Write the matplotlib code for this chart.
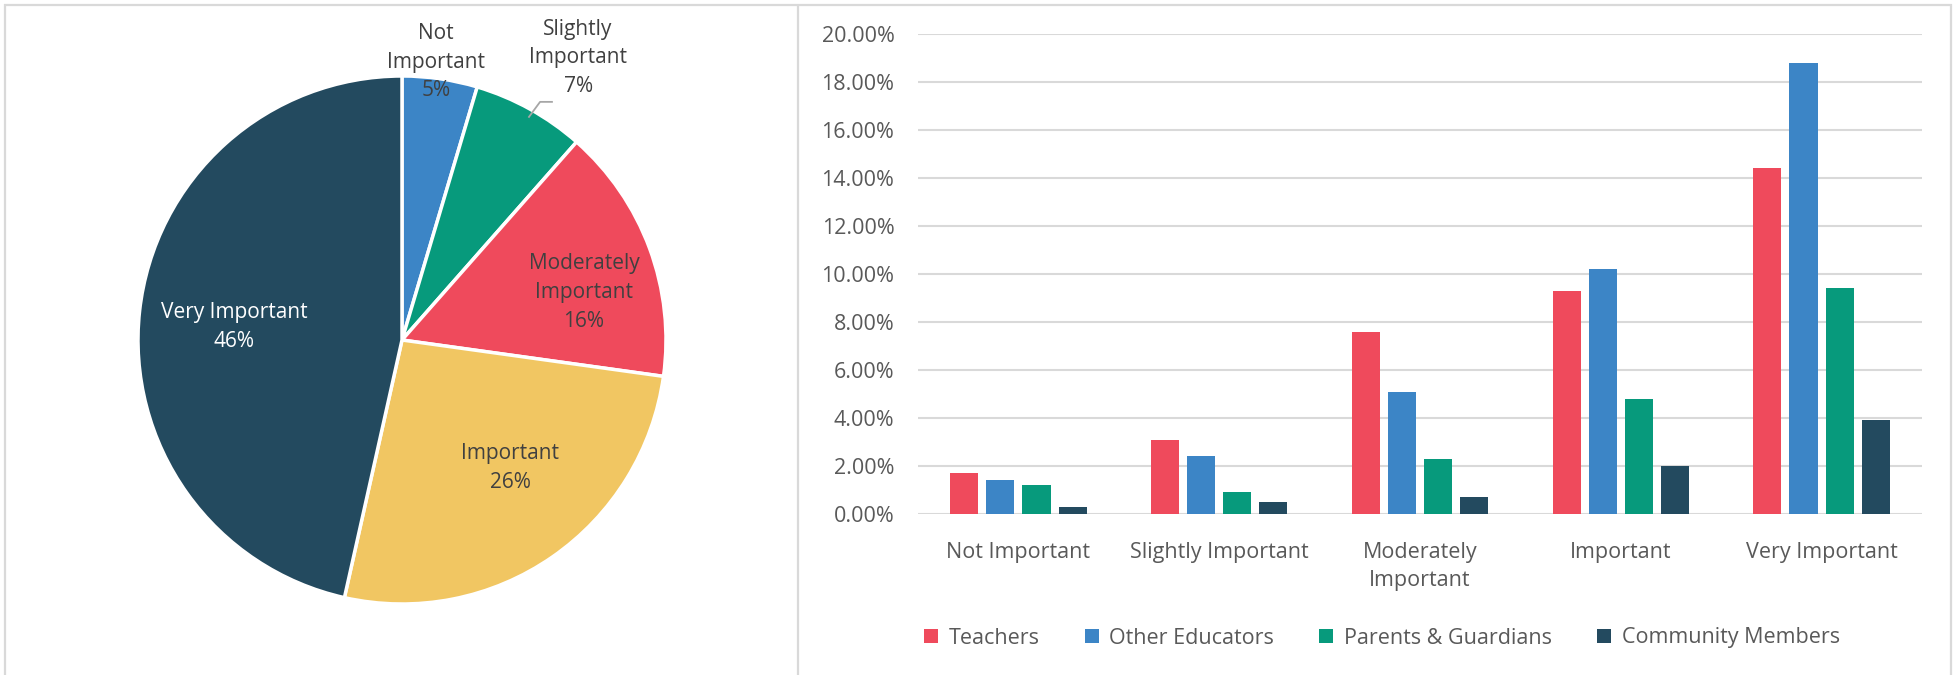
import matplotlib
matplotlib.use("Agg")
import matplotlib.pyplot as plt
import numpy as np
from matplotlib.lines import Line2D
from matplotlib.ticker import FuncFormatter

plt.rcParams['font.family'] = ['Open Sans', 'DejaVu Sans']

# ---------------- data ----------------
categories = ["Not Important", "Slightly Important", "Moderately\nImportant", "Important", "Very Important"]
pie_labels = ["Not\nImportant\n5%", "Slightly\nImportant\n7%", "Moderately\nImportant\n16%", "Important\n26%", "Very Important\n46%"]
pie_values = [4.6, 6.9, 15.7, 26.3, 46.5]

series_names = ["Teachers", "Other Educators", "Parents & Guardians", "Community Members"]
teachers = [1.7, 3.1, 7.6, 9.3, 14.4]
other_educators = [1.4, 2.4, 5.1, 10.2, 18.8]
parents_guardians = [1.2, 0.9, 2.3, 4.8, 9.4]
community_members = [0.3, 0.5, 0.7, 2.0, 3.9]

y_ticks = [0, 2, 4, 6, 8, 10, 12, 14, 16, 18, 20]

# ---------------- style ----------------
RED = "#EF4A5C"
BLUE = "#3C85C6"
GREEN = "#079A7C"
NAVY = "#234A5F"
YELLOW = "#F1C662"
GRID = "#D9D9D9"
TXT = "#595959"
DARK = "#404040"
FS = 15.5

W, H = 1959, 675
fig = plt.figure(figsize=(W / 100, H / 100), dpi=100)
fig.patch.set_facecolor("white")

def fx(px):
    return px / W

def fy(py):
    return 1 - py / H

# ---------------- borders ----------------
for (x0, y0, x1, y1) in [(4, 4.5, 1952, 4.5), (4.5, 4, 4.5, 675), (1951, 4, 1951, 675), (798, 4, 798, 675)]:
    fig.add_artist(Line2D([fx(x0), fx(x1)], [fy(y0), fy(y1)], transform=fig.transFigure,
                          color=GRID, lw=1.6, solid_capstyle="butt"))

# ---------------- pie ----------------
cx, cy, r = 402, 340, 264
axp = fig.add_axes([fx(cx - r), fy(cy + r), 2 * r / W, 2 * r / H])
axp.pie(pie_values, colors=[BLUE, GREEN, RED, YELLOW, NAVY], startangle=90, counterclock=False,
        radius=1, wedgeprops=dict(edgecolor="white", linewidth=2.5))
axp.set_xlim(-1, 1)
axp.set_ylim(-1, 1)
axp.set_aspect("auto")
axp.axis("off")

label_pos = [(0.129, 1.053), (0.667, 1.069), (0.689, 0.18), (0.409, -0.484), (-0.636, 0.05)]
label_col = [DARK, DARK, DARK, DARK, "white"]
for (lx, ly), txt, c in zip(label_pos, pie_labels, label_col):
    axp.text(lx, ly, txt, ha="center", va="center", fontsize=15, color=c,
             linespacing=1.48, clip_on=False)
axp.plot([0.481, 0.523, 0.568], [0.845, 0.902, 0.902], color="#A6A6A6", lw=1.3, clip_on=False)

# ---------------- bars ----------------
axb = fig.add_axes([fx(918), fy(514), (1922 - 918) / W, (514 - 34) / H])
x = np.arange(len(categories))
pitch = 0.18
width = 0.14
series = [teachers, other_educators, parents_guardians, community_members]
colors = [RED, BLUE, GREEN, NAVY]
for i, (vals, name, col) in enumerate(zip(series, series_names, colors)):
    axb.bar(x + (i - 1.5) * pitch, vals, width=width, color=col, label=name, zorder=3)

axb.set_xlim(-0.5, len(categories) - 0.5)
axb.set_ylim(0, 20)
axb.set_yticks(y_ticks)
axb.yaxis.set_major_formatter(FuncFormatter(lambda v, p: f"{v:.2f}%"))
axb.set_xticks(x)
axb.set_xticklabels(categories)
axb.grid(axis="y", color=GRID, lw=1.5, zorder=0)
for s in axb.spines.values():
    s.set_visible(False)
axb.axhline(0, color=GRID, lw=2, zorder=2)
axb.tick_params(axis="y", length=0, pad=17, labelsize=FS, labelcolor=TXT)
axb.tick_params(axis="x", length=0, pad=20, labelsize=FS, labelcolor=TXT)
for t in axb.get_xticklabels():
    t.set_linespacing(1.45)

leg = axb.legend(loc="center", bbox_to_anchor=(fx(1382), fy(638)), bbox_transform=fig.transFigure,
                 ncol=4, frameon=False, fontsize=FS, labelcolor=TXT, handlelength=0.65, handleheight=0.65,
                 handletextpad=0.5, columnspacing=2.1)

fig.savefig("out.png", dpi=100, facecolor="white")
